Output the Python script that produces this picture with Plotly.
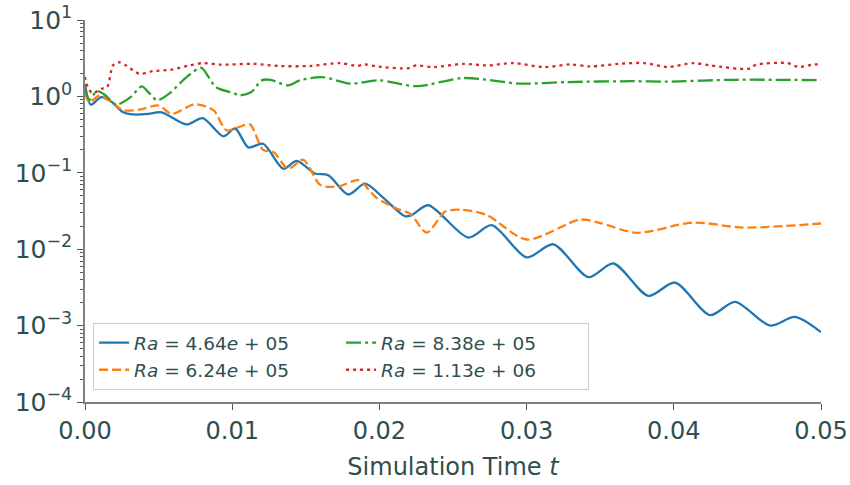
import plotly.graph_objects as go

# ---- data ----
t_a = [0.0, 0.0004, 0.0011, 0.0018, 0.0026, 0.0033, 0.0043, 0.0052, 0.0069, 0.0080,
       0.0094, 0.0102, 0.0111, 0.0121, 0.01347, 0.01438, 0.01562, 0.01653, 0.01789,
       0.01902, 0.02027, 0.02174, 0.0222, 0.02332, 0.02604, 0.02763, 0.0300, 0.03181,
       0.0342, 0.0359, 0.03827, 0.04008, 0.04246, 0.04416, 0.04654, 0.04823, 0.0500]
v_a = [1.45, 0.78, 0.98, 0.85, 0.62, 0.58, 0.59, 0.62, 0.43, 0.52,
       0.30, 0.38, 0.215, 0.24, 0.113, 0.143, 0.098, 0.093, 0.052,
       0.072, 0.047, 0.027, 0.028, 0.0376, 0.0142, 0.0206, 0.0078, 0.0116,
       0.0043, 0.0065, 0.00245, 0.00366, 0.00137, 0.00205, 0.00100, 0.0013, 0.00082]

t_b = [0.0, 0.0003, 0.0010, 0.0018, 0.0026, 0.0037, 0.0050, 0.0059, 0.0074, 0.0082,
       0.0088, 0.0096, 0.0105, 0.0112, 0.0121, 0.0128, 0.0138, 0.01483, 0.0160,
       0.0173, 0.01857, 0.0198, 0.02117, 0.0221, 0.02321, 0.02446, 0.0255, 0.0273,
       0.0300, 0.03363, 0.0350, 0.03747, 0.04133, 0.04472, 0.0500]
v_b = [1.1, 0.84, 1.03, 0.85, 0.66, 0.67, 0.76, 0.59, 0.79, 0.74,
       0.64, 0.36, 0.40, 0.43, 0.20, 0.187, 0.113, 0.148, 0.069,
       0.067, 0.080, 0.047, 0.034, 0.029, 0.0165, 0.031, 0.033, 0.028,
       0.0134, 0.0244, 0.022, 0.0164, 0.0223, 0.0192, 0.0217]

t_c = [0.0, 0.0003, 0.0008, 0.0014, 0.0021, 0.0031, 0.00385, 0.0043, 0.0049, 0.0057,
       0.0069, 0.0079, 0.0084, 0.0089, 0.0101, 0.0105, 0.0113, 0.0120, 0.0126, 0.0138,
       0.0146, 0.0161, 0.0180, 0.0200, 0.02253, 0.0257, 0.02955, 0.0327, 0.03725,
       0.0395, 0.04404, 0.0500]
v_c = [1.3, 0.90, 1.17, 1.03, 0.78, 0.98, 1.35, 1.14, 0.89, 1.08,
       1.79, 2.37, 1.79, 1.32, 1.10, 1.03, 1.14, 1.62, 1.65, 1.39,
       1.62, 1.79, 1.47, 1.62, 1.36, 1.74, 1.47, 1.54, 1.58,
       1.56, 1.65, 1.63]

t_d = [0.0, 0.0001, 0.0005, 0.0011, 0.0015, 0.0019, 0.0023, 0.0028, 0.0037, 0.0046,
       0.0058, 0.0071, 0.0080, 0.0092, 0.0114, 0.0132, 0.0153, 0.0173, 0.0185, 0.0190,
       0.0198, 0.0220, 0.0225, 0.0237, 0.0257, 0.0273, 0.0291, 0.0312, 0.0330, 0.0343,
       0.0363, 0.0380, 0.0396, 0.0413, 0.0425, 0.0451, 0.0456, 0.0477, 0.0485, 0.0495,
       0.0500]
v_d = [1.8, 1.46, 1.10, 1.26, 1.32, 2.54, 2.80, 2.54, 1.98, 2.14,
       2.23, 2.54, 2.73, 2.60, 2.67, 2.50, 2.50, 2.73, 2.50, 2.62,
       2.47, 2.34, 2.54, 2.42, 2.67, 2.54, 2.73, 2.42, 2.62, 2.47,
       2.67, 2.73, 2.42, 2.73, 2.54, 2.30, 2.60, 2.73, 2.42, 2.62,
       2.60]

names = ["<i>Ra</i> = 4.64<i>e</i> + 05", "<i>Ra</i> = 6.24<i>e</i> + 05",
         "<i>Ra</i> = 8.38<i>e</i> + 05", "<i>Ra</i> = 1.13<i>e</i> + 06"]
colors = ["#1f77b4", "#ff7f0e", "#2ca02c", "#d62728"]

x_ticks = [0.00, 0.01, 0.02, 0.03, 0.04, 0.05]
y_ticks = [1e-4, 1e-3, 1e-2, 1e-1, 1e0, 1e1]
y_ticktext = ["10<sup>−4</sup>", "10<sup>−3</sup>", "10<sup>−2</sup>",
              "10<sup>−1</sup>", "10<sup>0</sup>", "10<sup>1</sup>"]

TXT = "#2f4f4f"
FONT = "DejaVu Sans"

fig = go.Figure()
series = [(t_a, v_a, "solid", "spline", 1), (t_b, v_b, "9px,4px", "spline", 3),
          (t_c, v_c, "15px,4px,3px,4px", "spline", 2), (t_d, v_d, "3px,4px", "spline", 4)]
for (t, v, dash, shape, rank), name, col in zip(series, names, colors):
    fig.add_trace(go.Scatter(x=t, y=v, mode="lines", name=name, legendrank=rank,
                             line=dict(color=col, width=2.3, dash=dash, shape=shape,
                                       smoothing=0.8)))

minor_vals = [k * 10.0 ** e for e in range(-4, 1) for k in range(2, 10)]

fig.update_layout(
    width=850, height=485,
    margin=dict(l=85, r=29, t=20, b=83),
    paper_bgcolor="white", plot_bgcolor="white",
    font=dict(family=FONT, color=TXT, size=24),
    showlegend=True,
    legend=dict(orientation="h", x=0.011, y=0.031, xanchor="left", yanchor="bottom",
                entrywidth=202, entrywidthmode="pixels",
                bgcolor="rgba(255,255,255,0.85)", bordercolor="#cccccc", borderwidth=1,
                font=dict(family=FONT, size=18.5, color=TXT), tracegroupgap=2,
                traceorder="normal"),
    xaxis=dict(range=[0, 0.05], tickvals=x_ticks, tickformat=".2f", automargin=False,
               ticklabeloverflow="allow",
               showgrid=False, zeroline=False, showline=True, linecolor="#808080",
               linewidth=1.5, ticks="outside", ticklen=6, tickwidth=1.3, tickcolor="#555555",
               tickfont=dict(size=24, color=TXT),
               title=dict(text="Simulation Time <i>t</i>", font=dict(size=24, color=TXT),
                          standoff=15)),
    yaxis=dict(type="log", range=[-4, 1], tickvals=y_ticks, ticktext=y_ticktext,
               automargin=False, ticklabeloverflow="allow",
               showgrid=False, zeroline=False, showline=True, linecolor="#808080",
               linewidth=1.5, ticks="outside", ticklen=6, tickwidth=1.3, tickcolor="#555555",
               tickfont=dict(size=25, color=TXT),
               minor=dict(tickvals=minor_vals, ticks="outside", ticklen=3,
                          tickwidth=1, tickcolor="#555555", showgrid=False)),
)

# remove the browser's default page margin so the 850x485 figure fills the window
fig.write_html("out.html", config={"displayModeBar": False},
               post_script="document.body.style.margin='0';document.body.style.overflow='hidden';")
